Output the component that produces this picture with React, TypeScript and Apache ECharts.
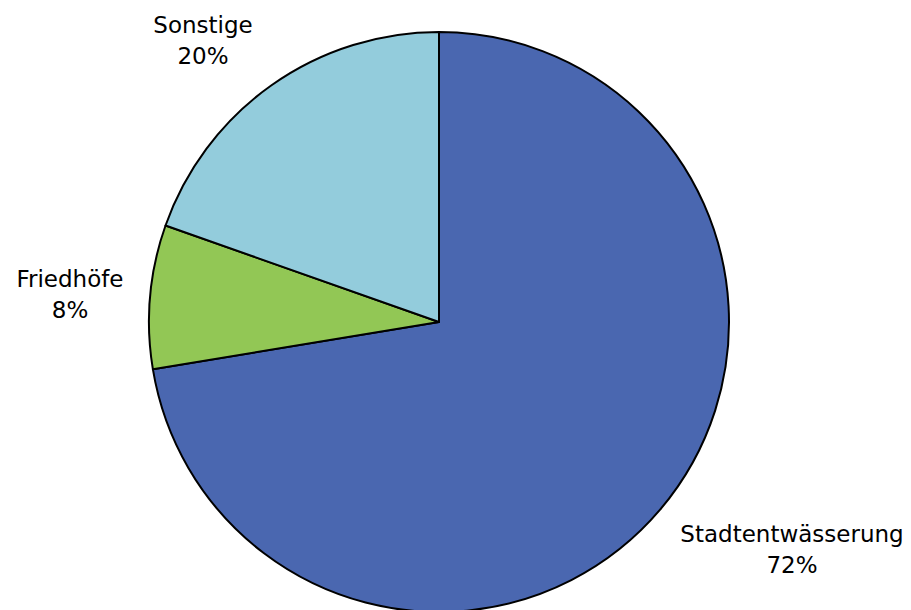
import React, { useEffect, useRef } from "react";
import * as echarts from "echarts";

const categories = ["Stadtentwässerung", "Friedhöfe", "Sonstige"];
const values = [72.4, 8.0, 19.6];
const colors = ["#4a67b0", "#92c755", "#93ccdc"];
const labelPos: [number, number][] = [
  [792, 549],
  [70, 294],
  [203, 40],
];

export default function App() {
  const ref = useRef<HTMLDivElement>(null);
  useEffect(() => {
    if (!ref.current) return;
    const chart = echarts.init(ref.current, undefined, { renderer: "svg" });
    chart.setOption({
      animation: false,
      backgroundColor: "#ffffff",
      series: [
        {
          type: "pie",
          center: [439, 322],
          radius: 290,
          startAngle: 90,
          clockwise: true,
          avoidLabelOverlap: false,
          data: categories.map((name, i) => ({
            name,
            value: values[i],
            itemStyle: { color: colors[i] },
          })),
          itemStyle: { borderColor: "#000000", borderWidth: 2 },
          label: {
            show: true,
            position: "outside",
            formatter: (p: any) => `${p.name}\n${Math.round(p.percent)}%`,
            fontFamily: "DejaVu Sans",
            fontSize: 23,
            lineHeight: 31,
            color: "#000000",
            align: "center",
          },
          labelLine: { show: false },
          labelLayout: (params: any) => {
            const pos = labelPos[params.dataIndex];
            return {
              x: pos[0],
              y: pos[1],
              align: "center",
              verticalAlign: "middle",
              hideOverlap: false,
            };
          },
          emphasis: { disabled: true },
        },
      ],
    });
    return () => chart.dispose();
  }, []);
  return (
    <div
      ref={ref}
      style={{ position: "fixed", left: 0, top: 0, width: 911, height: 610 }}
    />
  );
}
